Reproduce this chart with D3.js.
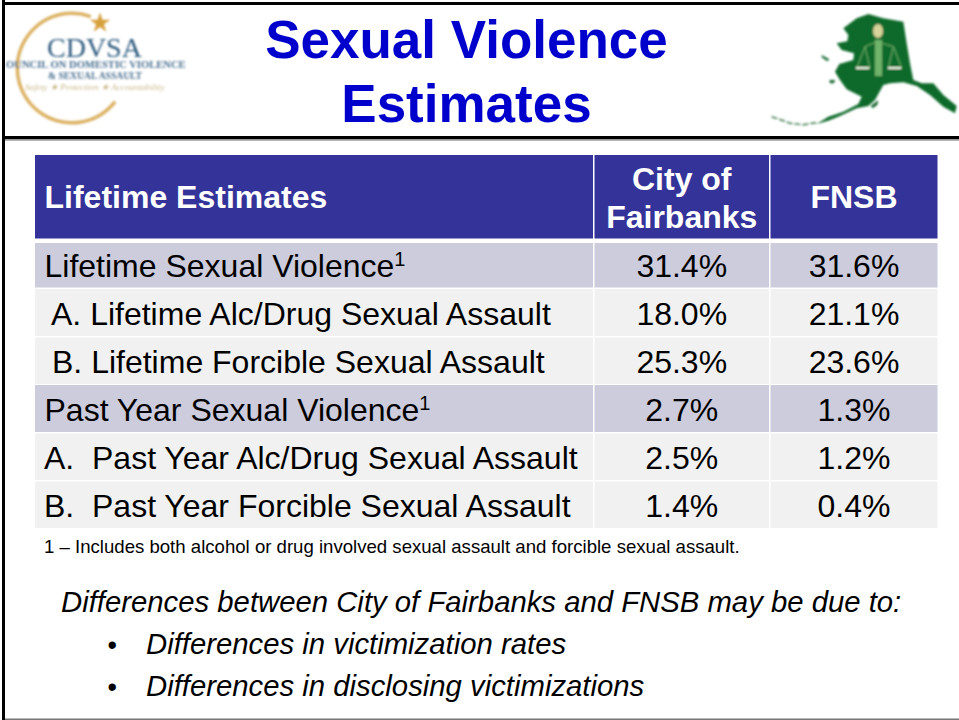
<!DOCTYPE html>
<html>
<head>
<meta charset="utf-8">
<title>Sexual Violence Estimates</title>
<script src="https://cdn.jsdelivr.net/npm/d3@7"></script>
<style>
  html, body { margin: 0; padding: 0; background: #fff; }
  svg { display: block; font-family: "Liberation Sans", Arial, sans-serif; }
  text { white-space: pre; }
</style>
</head>
<body>
<svg id="slide" width="959" height="720"></svg>
<script>
// table content
const titleLines = ["Sexual Violence", "Estimates"];
const headerLabels = ["Lifetime Estimates", ["City of", "Fairbanks"], "FNSB"];
const rowLabels = [
  "Lifetime Sexual Violence",
  "A. Lifetime Alc/Drug Sexual Assault",
  "B. Lifetime Forcible Sexual Assault",
  "Past Year Sexual Violence",
  "A.  Past Year Alc/Drug Sexual Assault",
  "B.  Past Year Forcible Sexual Assault"
];
const fairbanksValues = [31.4, 18.0, 25.3, 2.7, 2.5, 1.4];
const fnsbValues = [31.6, 21.1, 23.6, 1.3, 1.2, 0.4];
const summaryRows = [0, 3];
const footnote = "1 \u2013 Includes both alcohol or drug involved sexual assault and forcible sexual assault.";
const closingLine = "Differences between City of Fairbanks and FNSB may be due to:";
const closingBullets = ["Differences in victimization rates", "Differences in disclosing victimizations"];

const svg = d3.select("#slide");
const pct = d3.format(".1f");

// filter so the logos look like the low res pictures on the slide
const blur = svg.append("defs").append("filter").attr("id", "soft");
blur.append("feGaussianBlur").attr("stdDeviation", 0.8);

// slide frame
const frame = svg.append("g");
frame.append("rect").attr("x", 2).attr("y", 0).attr("width", 3).attr("height", 720).attr("fill", "#000");
frame.append("rect").attr("x", 2).attr("y", 2).attr("width", 957).attr("height", 3).attr("fill", "#000");
frame.append("rect").attr("x", 2).attr("y", 136).attr("width", 957).attr("height", 3.5).attr("fill", "#000");
frame.append("rect").attr("x", 5).attr("y", 139.5).attr("width", 954).attr("height", 1.5).attr("fill", "#b4b4b4");
frame.append("rect").attr("x", 5).attr("y", 718.5).attr("width", 954).attr("height", 1.5).attr("fill", "#777");

// title
svg.append("g").selectAll("text")
    .data(titleLines)
    .enter()
    .append("text")
    .attr("x", 466.5)
    .attr("y", (d, i) => 58 + i * 64)
    .attr("text-anchor", "middle")
    .attr("font-size", 53)
    .attr("font-weight", "bold")
    .attr("fill", "#0000cc")
    .text(d => d);

// table scales
const colX = d3.scaleOrdinal().domain([0, 1, 2]).range([35, 594.5, 770.5]);
const colW = d3.scaleOrdinal().domain([0, 1, 2]).range([558, 174.5, 167]);
const rowY = d3.scaleOrdinal().domain(rowLabels).range([243, 289, 337.5, 385, 433.5, 481.5]);
const rowH = d3.scaleOrdinal().domain(rowLabels).range([44.5, 47, 46.5, 47, 46.5, 46.5]);
const baseY = d3.scaleOrdinal().domain(rowLabels).range([276.5, 325, 373, 421, 469, 517]);
const labelX = d3.scaleOrdinal().domain(rowLabels).range([44.5, 51, 52, 44.5, 44, 44]);

// header row
const header = svg.append("g");
header.selectAll("rect")
    .data(headerLabels)
    .enter()
    .append("rect")
    .attr("x", (d, i) => colX(i))
    .attr("y", 155)
    .attr("width", (d, i) => colW(i))
    .attr("height", 83.5)
    .attr("fill", "#333399");
header.selectAll("text")
    .data(headerLabels)
    .enter()
    .append("text")
    .attr("font-size", 32)
    .attr("font-weight", "bold")
    .attr("fill", "#fff")
    .attr("text-anchor", (d, i) => i === 0 ? "start" : "middle")
    .attr("x", (d, i) => i === 0 ? 44.5 : colX(i) + colW(i) / 2)
    .attr("y", 208)
    .each(function(d, i) {
      if (Array.isArray(d)) {
        const x = colX(i) + colW(i) / 2;
        d3.select(this).selectAll("tspan")
            .data(d)
            .enter()
            .append("tspan")
            .attr("x", x)
            .attr("y", (t, j) => 190 + j * 38)
            .text(t => t);
      } else {
        d3.select(this).text(d);
      }
    });

// body rows
const rows = svg.append("g").selectAll("g")
    .data(rowLabels)
    .enter()
    .append("g");

[0, 1, 2].forEach(function(c) {
  rows.append("rect")
      .attr("x", colX(c))
      .attr("y", d => rowY(d))
      .attr("width", colW(c))
      .attr("height", d => rowH(d))
      .attr("fill", (d, i) => summaryRows.includes(i) ? "#ccccdd" : "#f1f1f1");
});

const labels = rows.append("text")
    .attr("x", d => labelX(d))
    .attr("y", d => baseY(d))
    .attr("font-size", 32)
    .attr("fill", "#000")
    .text(d => d);

// footnote marker on the two summary rows
labels.filter((d, i) => summaryRows.includes(i))
    .append("tspan")
    .attr("dy", -11)
    .attr("font-size", 20)
    .text("1");

rows.append("text")
    .attr("x", colX(1) + colW(1) / 2)
    .attr("y", d => baseY(d))
    .attr("text-anchor", "middle")
    .attr("font-size", 32)
    .text((d, i) => pct(fairbanksValues[i]) + "%");

rows.append("text")
    .attr("x", colX(2) + colW(2) / 2)
    .attr("y", d => baseY(d))
    .attr("text-anchor", "middle")
    .attr("font-size", 32)
    .text((d, i) => pct(fnsbValues[i]) + "%");

// footnote
svg.append("text")
    .attr("x", 44)
    .attr("y", 552.5)
    .attr("font-size", 18.6)
    .text(footnote);

// closing notes
svg.append("text")
    .attr("x", 61)
    .attr("y", 612)
    .attr("font-size", 29.3)
    .attr("font-style", "italic")
    .text(closingLine);

const bullets = svg.append("g").selectAll("g")
    .data(closingBullets)
    .enter()
    .append("g")
    .attr("transform", (d, i) => "translate(0," + (654 + i * 42) + ")");
bullets.append("text")
    .attr("x", 107.5)
    .attr("font-size", 27)
    .text("\u2022");
bullets.append("text")
    .attr("x", 146)
    .attr("font-size", 29.3)
    .attr("font-style", "italic")
    .text(d => d);

// CDVSA logo
const logo = svg.append("g").attr("filter", "url(#soft)");
const ring = d3.arc()
    .innerRadius(53)
    .outerRadius(56.5)
    .startAngle(0.35)
    .endAngle(-4.05);
logo.append("path")
    .attr("d", ring())
    .attr("transform", "translate(72,68)")
    .attr("fill", "#dcb264");
logo.append("path")
    .attr("d", d3.symbol(d3.symbolStar, 130)())
    .attr("transform", "translate(100,23)")
    .attr("fill", "#d6a13c");
logo.append("text")
    .attr("x", 47)
    .attr("y", 57)
    .attr("font-family", "Liberation Serif")
    .attr("font-size", 28)
    .attr("fill", "#2d5a7e")
    .text("CDVSA");
logo.append("text")
    .attr("x", 6)
    .attr("y", 68)
    .attr("font-family", "Liberation Serif")
    .attr("font-size", 10.6)
    .attr("font-weight", "bold")
    .attr("fill", "#4a6f90")
    .text("OUNCIL ON DOMESTIC VIOLENCE");
logo.append("text")
    .attr("x", 48)
    .attr("y", 79)
    .attr("font-family", "Liberation Serif")
    .attr("font-size", 9.6)
    .attr("font-weight", "bold")
    .attr("fill", "#4a6f90")
    .text("& SEXUAL ASSAULT");
logo.append("text")
    .attr("x", 25)
    .attr("y", 90)
    .attr("font-family", "Liberation Serif")
    .attr("font-style", "italic")
    .attr("font-size", 9.2)
    .attr("fill", "#c9b98a")
    .text("Safety \u2605 Protection \u2605 Accountability");

// Alaska logo, traced by eye in the zoomed crop then scaled down
const traceX = d3.scaleLinear().domain([0, 219]).range([740, 959]);
const traceY = d3.scaleLinear().domain([0, 150]).range([0, 150]);
const trace = d3.line().x(d => traceX(d[0] / 3)).y(d => traceY(d[1] / 3));
const alaskaBody = [[310,85],[350,55],[385,42],[430,55],[490,65],[500,130],[510,190],[520,240],[545,250],[580,250],[610,285],[650,318],[645,340],[610,320],[570,285],[530,258],[490,247],[450,250],[430,255],[405,300],[385,318],[350,325],[300,348],[265,362],[230,372],[265,350],[310,335],[355,312],[365,290],[320,268],[300,240],[285,215],[298,192],[340,180],[342,160],[305,150],[290,130],[322,124],[325,105]];
const alaskaTail = [[95,350],[130,362],[150,370],[190,374],[230,368]];
const alaskaIslands = [[[245,165],[268,178],[262,184],[245,172]], [[268,240],[285,240],[282,250],[270,250]], [[392,318],[415,300],[412,315],[398,325]]];

const alaska = svg.append("g").attr("filter", "url(#soft)");
alaska.append("path").attr("d", trace(alaskaBody) + "Z").attr("fill", "#0d6b2c");
alaska.append("path").attr("d", trace(alaskaTail)).attr("fill", "none").attr("stroke", "#3c7a4c").attr("stroke-width", 1.5).attr("stroke-dasharray", "6 2");
alaska.selectAll(".isle")
    .data(alaskaIslands)
    .enter()
    .append("path")
    .attr("class", "isle")
    .attr("d", d => trace(d) + "Z")
    .attr("fill", "#1c6b35");
// candle and scales
alaska.append("rect").attr("x", 875).attr("y", 40).attr("width", 7).attr("height", 36).attr("fill", "#6fb36b");
alaska.append("ellipse").attr("cx", 878).attr("cy", 31).attr("rx", 5).attr("ry", 7).attr("fill", "#d8d39a");
alaska.append("path").attr("d", trace([[375,140],[350,205],[390,205],[375,140],[410,125],[460,140],[445,205],[485,205],[460,140]])).attr("fill", "none").attr("stroke", "#6fb36b").attr("stroke-width", 1);
alaska.append("rect").attr("x", 856).attr("y", 67).attr("width", 13).attr("height", 2).attr("fill", "#eef7e6");
alaska.append("rect").attr("x", 888).attr("y", 67).attr("width", 13).attr("height", 2).attr("fill", "#eef7e6");
</script>
</body>
</html>
